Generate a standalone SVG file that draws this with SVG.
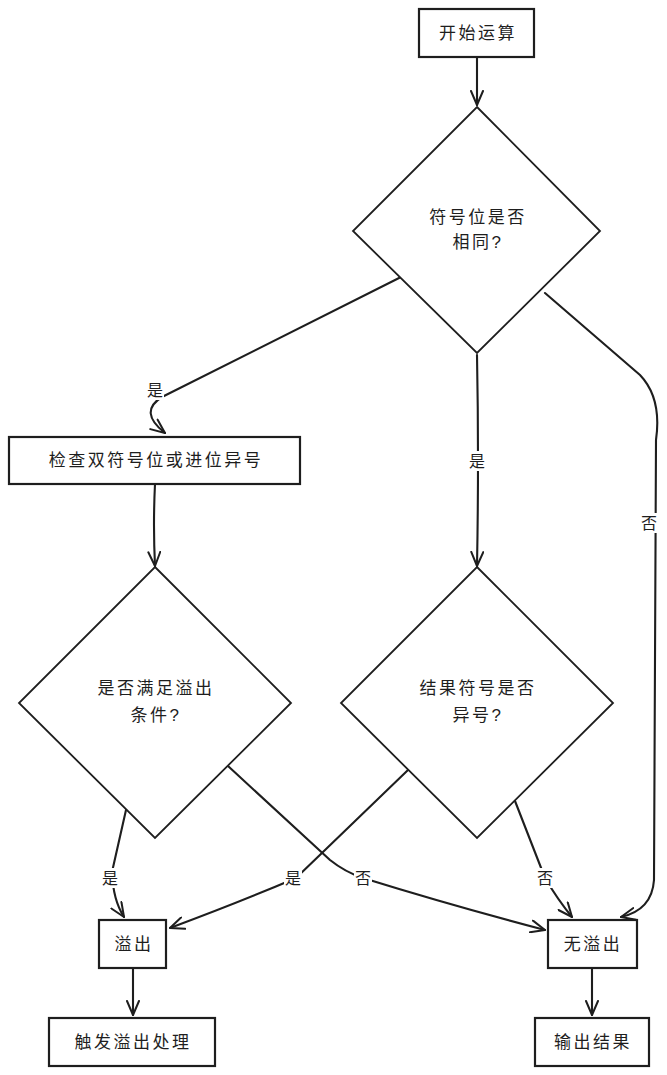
<svg xmlns="http://www.w3.org/2000/svg" width="667" height="1075" viewBox="0 0 667 1075">
<style>
  .box { fill: #ffffff; stroke: #1e1e1e; stroke-width: 2.2; }
  .dia { fill: #ffffff; stroke: #1e1e1e; stroke-width: 1.8; stroke-linejoin: miter; }
  .t { font-family: "Liberation Sans", "Noto Sans CJK SC", sans-serif; font-size: 17px; fill: #1e1e1e; text-anchor: middle; letter-spacing: 2.5px; }
  .edge { fill: none; stroke: #1e1e1e; stroke-width: 2.1; stroke-linecap: round; stroke-linejoin: round; }
  .lbl { font-family: "Liberation Sans", "Noto Sans CJK SC", sans-serif; font-size: 16px; fill: #1e1e1e; text-anchor: middle; }
  .lblbg { fill: #ffffff; stroke: none; }
</style>
<defs>
  <marker id="arr" viewBox="0 0 16 14" refX="15" refY="7" markerWidth="16" markerHeight="14" markerUnits="userSpaceOnUse" orient="auto">
    <path d="M1,1 L15,7 L1,13" fill="none" stroke="#1e1e1e" stroke-width="2" stroke-linecap="round" stroke-linejoin="round"/>
  </marker>
</defs>
<rect width="667" height="1075" fill="#ffffff"/>

<g id="connectors">
  <path class="edge" marker-end="url(#arr)" d="M477,57 L477,105"/>
  <path class="edge" marker-end="url(#arr)" d="M405,275 L162,397 Q138,412 165,433"/>
  <path class="edge" marker-end="url(#arr)" d="M155,484 Q153,525 155,566"/>
  <path class="edge" marker-end="url(#arr)" d="M477,355 Q479,460 477,566"/>
  <path class="edge" marker-end="url(#arr)" d="M545,293 L640,375 Q662,398 656,440 L654,880 Q652,910 621,917"/>
  <path class="edge" marker-end="url(#arr)" d="M126,810 L112,872 Q113,900 124,917"/>
  <path class="edge" marker-end="url(#arr)" d="M408,770 L296,878 Q240,902 170,928"/>
  <path class="edge" marker-end="url(#arr)" d="M228,766 L330,860 Q345,872 363,878 Q450,905 545,930"/>
  <path class="edge" marker-end="url(#arr)" d="M515,801 L545,878 Q558,900 572,917"/>
  <path class="edge" marker-end="url(#arr)" d="M133,968 L133,1015"/>
  <path class="edge" marker-end="url(#arr)" d="M592,968 L592,1015"/>

  <g id="labels">
    <rect class="lblbg" x="146" y="380" width="18" height="20"/>
    <text class="lbl" x="155" y="396">是</text>
    <rect class="lblbg" x="468" y="451" width="18" height="20"/>
    <text class="lbl" x="477" y="467">是</text>
    <rect class="lblbg" x="640" y="513" width="18" height="20"/>
    <text class="lbl" x="649" y="529">否</text>
    <rect class="lblbg" x="101" y="868" width="18" height="20"/>
    <text class="lbl" x="110" y="884">是</text>
    <rect class="lblbg" x="284" y="868" width="18" height="20"/>
    <text class="lbl" x="293" y="884">是</text>
    <rect class="lblbg" x="354" y="868" width="18" height="20"/>
    <text class="lbl" x="363" y="884">否</text>
    <rect class="lblbg" x="536" y="868" width="18" height="20"/>
    <text class="lbl" x="545" y="884">否</text>
  </g>
</g>

<g id="start">
  <rect class="box" x="419" y="9" width="115" height="48"/>
  <text class="t" x="478" y="39">开始运算</text>
</g>

<g id="decision-sign-same">
  <polygon class="dia" points="477,107 600,231 477,353 353,231"/>
  <text class="t" x="478" y="223">符号位是否</text>
  <text class="t" x="478" y="248">相同?</text>
</g>

<g id="check-double-sign">
  <rect class="box" x="9" y="437" width="291" height="47"/>
  <text class="t" x="156" y="466">检查双符号位或进位异号</text>
</g>

<g id="decision-overflow-cond">
  <polygon class="dia" points="155,567 291,703 155,838 19,703"/>
  <text class="t" x="156" y="694">是否满足溢出</text>
  <text class="t" x="156" y="721">条件?</text>
</g>

<g id="decision-result-sign">
  <polygon class="dia" points="477,567 613,703 477,838 341,703"/>
  <text class="t" x="478" y="694">结果符号是否</text>
  <text class="t" x="478" y="721">异号?</text>
</g>

<g id="overflow">
  <rect class="box" x="99" y="920" width="67" height="48"/>
  <text class="t" x="134" y="950">溢出</text>
</g>

<g id="no-overflow">
  <rect class="box" x="548" y="920" width="89" height="48"/>
  <text class="t" x="593" y="950">无溢出</text>
</g>

<g id="handle-overflow">
  <rect class="box" x="49" y="1018" width="166" height="48"/>
  <text class="t" x="133" y="1048">触发溢出处理</text>
</g>

<g id="output">
  <rect class="box" x="535" y="1018" width="114" height="48"/>
  <text class="t" x="593" y="1048">输出结果</text>
</g>
</svg>
